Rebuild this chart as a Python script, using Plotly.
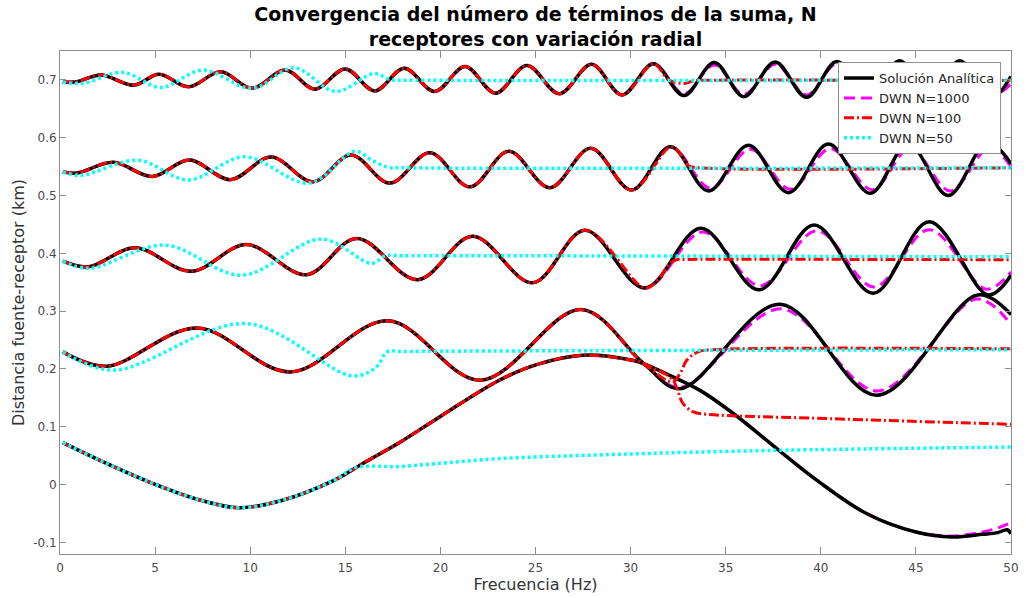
import plotly.graph_objects as go

# Frequency axis (Hz) and source-receiver distance axis (km)
x_ticks = [0, 5, 10, 15, 20, 25, 30, 35, 40, 45, 50]
y_ticks = [-0.1, 0, 0.1, 0.2, 0.3, 0.4, 0.5, 0.6, 0.7]
y_tick_labels = ["-0.1", "0", "0.1", "0.2", "0.3", "0.4", "0.5", "0.6", "0.7"]

# ---- Receptor 1 (~0.075 km) ----
f_ana_1 = [0.15, 2.1, 4.7, 7.4, 9.4, 11.7, 14.4, 16.1, 17.9, 20.0, 23.1, 25.1, 27.5,
           30.1, 30.7, 32.25, 33.65, 35.4, 37.7, 39.8, 42.4, 45.0, 46.9, 48.5, 49.3, 49.8, 50.0]
u_ana_1 = [0.0727, 0.042, 0.0045, -0.027, -0.040, -0.027, 0.0074, 0.040, 0.0738, 0.118, 0.1806,
           0.208, 0.2238, 0.215, 0.209, 0.186, 0.163, 0.123, 0.062, 0.0074, -0.050, -0.082,
           -0.0907, -0.086, -0.083, -0.078, -0.085]
f_n1000_1 = [46.9, 48.5, 49.3, 50.0]
u_n1000_1 = [-0.089, -0.082, -0.075, -0.066]
f_n100_1 = [32.2, 32.5, 32.76, 33.3, 34.0, 40.6, 50.0]
u_n100_1 = [0.182, 0.160, 0.140, 0.1257, 0.1217, 0.114, 0.1044]
f_n50_1 = [15.5, 16.5, 17.6, 20.0, 23.1, 30.0, 37.2, 50.0]
u_n50_1 = [0.029, 0.032, 0.031, 0.037, 0.045, 0.053, 0.059, 0.065]

# ---- Receptor 2 (~0.23 km) ----
f_ana_2 = [0.15, 2.45, 7.2, 12.1, 17.25, 22.1, 27.4, 30.7, 32.6, 37.85, 42.95, 48.25, 50.0]
u_ana_2 = [0.2296, 0.2048, 0.271, 0.195, 0.2833, 0.1806, 0.303, 0.209, 0.166, 0.312, 0.1546,
           0.328, 0.294]
f_n1000_2 = [32.6, 37.9, 43.0, 48.2, 50.0]
u_n1000_2 = [0.168, 0.304, 0.162, 0.321, 0.277]
f_n100_2 = [32.2, 32.6, 32.95, 33.55, 34.5, 50.0]
u_n100_2 = [0.178, 0.192, 0.215, 0.2296, 0.2335, 0.235]
f_n50_2 = [0.15, 2.8, 9.8, 15.4, 16.65, 17.2, 18.0, 50.0]
u_n50_2 = [0.2296, 0.198, 0.2786, 0.188, 0.204, 0.2296, 0.2302, 0.2335]

# ---- Receptor 3 (~0.385 km) ----
f_ana_3 = [0.15, 1.5, 3.95, 6.9, 9.8, 12.95, 15.6, 18.8, 21.7, 24.85, 27.6, 30.75, 33.7,
           36.75, 39.65, 42.75, 45.7, 48.8, 50.0]
u_ana_3 = [0.3865, 0.3767, 0.4096, 0.369, 0.4152, 0.363, 0.4258, 0.3545, 0.4295, 0.349, 0.440,
           0.340, 0.4435, 0.337, 0.449, 0.331, 0.4545, 0.328, 0.362]
f_n1000_3 = [33.8, 36.8, 39.8, 42.8, 45.7, 48.7, 50.0]
u_n1000_3 = [0.437, 0.344, 0.439, 0.342, 0.441, 0.338, 0.368]
f_n100_3 = [31.5, 32.0, 32.4, 33.0, 50.0]
u_n100_3 = [0.357, 0.380, 0.389, 0.3895, 0.389]
f_n50_3 = [0.15, 1.5, 5.5, 9.55, 13.75, 16.4, 17.1, 18.0, 50.0]
u_n50_3 = [0.3865, 0.374, 0.4142, 0.3623, 0.4246, 0.3826, 0.3958, 0.396, 0.394]

# ---- Receptor 4 (~0.54 km) ----
f_ana_4 = [0.15, 0.9, 2.8, 4.85, 6.8, 8.95, 11.1, 13.3, 15.3, 17.35, 19.45, 21.55, 23.6, 25.75,
           27.9, 30.05, 32.1, 34.1, 36.2, 38.3, 40.4, 42.6, 44.6, 46.7, 48.75, 50.0]
u_ana_4 = [0.541, 0.539, 0.5575, 0.533, 0.5614, 0.5275, 0.5665, 0.524, 0.570, 0.5215, 0.574,
           0.515, 0.5765, 0.5135, 0.5816, 0.5095, 0.5844, 0.508, 0.587, 0.505, 0.589, 0.504,
           0.590, 0.500, 0.592, 0.555]
f_n1000_4 = [34.2, 36.3, 38.4, 40.5, 42.7, 44.7, 46.8, 48.85, 50.0]
u_n1000_4 = [0.513, 0.580, 0.511, 0.581, 0.510, 0.582, 0.508, 0.583, 0.550]
f_n100_4 = [32.6, 33.05, 33.6, 50.0]
u_n100_4 = [0.573, 0.5515, 0.548, 0.548]
f_n50_4 = [0.15, 1.1, 4.1, 6.75, 9.7, 13.1, 15.5, 16.4, 17.2, 18.0, 50.0]
u_n50_4 = [0.541, 0.535, 0.561, 0.527, 0.567, 0.5215, 0.5765, 0.561, 0.549, 0.548, 0.548]

# ---- Receptor 5 (~0.70 km) ----
f_ana_5 = [0.15, 0.9, 2.15, 3.9, 5.2, 6.75, 8.45, 10.1, 11.85, 13.4, 15.0, 16.55, 18.1, 19.7,
           21.3, 22.9, 24.55, 26.25, 27.95, 29.55, 31.2, 32.8, 34.4, 35.95, 37.6, 39.25, 40.85,
           42.5, 44.15, 45.7, 47.3, 48.9, 50.0]
u_ana_5 = [0.696, 0.697, 0.7085, 0.691, 0.710, 0.688, 0.714, 0.6855, 0.717, 0.684, 0.719, 0.681,
           0.720, 0.680, 0.723, 0.677, 0.725, 0.676, 0.727, 0.674, 0.728, 0.673, 0.730, 0.671,
           0.731, 0.670, 0.732, 0.669, 0.733, 0.668, 0.733, 0.667, 0.706]
f_n1000_5 = [32.8, 34.4, 35.95, 37.6, 39.25, 40.85, 42.5, 44.15, 45.7, 47.3, 48.9, 50.0]
u_n1000_5 = [0.676, 0.726, 0.675, 0.727, 0.674, 0.728, 0.673, 0.728, 0.672, 0.728, 0.672, 0.693]
f_n100_5 = [32.0, 32.8, 33.4, 34.2, 50.0]
u_n100_5 = [0.700, 0.694, 0.699, 0.6995, 0.699]
f_n50_5 = [0.15, 1.2, 3.3, 5.3, 7.5, 10.1, 12.3, 14.5, 16.5, 17.4, 18.2, 50.0]
u_n50_5 = [0.696, 0.694, 0.713, 0.687, 0.717, 0.6855, 0.721, 0.680, 0.711, 0.700, 0.6995, 0.6995]


def joined(f_ref, u_ref, f_cut, f_tail, u_tail):
    """Analytic samples up to f_cut (where the DWN sum still agrees), then the DWN samples."""
    head = [(f, u) for f, u in zip(f_ref, u_ref) if f <= f_cut]
    return [p[0] for p in head] + f_tail, [p[1] for p in head] + u_tail


analytic = [(f_ana_1, u_ana_1), (f_ana_2, u_ana_2), (f_ana_3, u_ana_3),
            (f_ana_4, u_ana_4), (f_ana_5, u_ana_5)]
dwn1000 = [joined(f_ana_1, u_ana_1, 45.0, f_n1000_1, u_n1000_1),
           joined(f_ana_2, u_ana_2, 30.7, f_n1000_2, u_n1000_2),
           joined(f_ana_3, u_ana_3, 30.75, f_n1000_3, u_n1000_3),
           joined(f_ana_4, u_ana_4, 32.1, f_n1000_4, u_n1000_4),
           joined(f_ana_5, u_ana_5, 31.2, f_n1000_5, u_n1000_5)]
dwn100 = [joined(f_ana_1, u_ana_1, 30.7, f_n100_1, u_n100_1),
          joined(f_ana_2, u_ana_2, 30.7, f_n100_2, u_n100_2),
          joined(f_ana_3, u_ana_3, 30.75, f_n100_3, u_n100_3),
          joined(f_ana_4, u_ana_4, 32.1, f_n100_4, u_n100_4),
          joined(f_ana_5, u_ana_5, 31.2, f_n100_5, u_n100_5)]
dwn50 = [joined(f_ana_1, u_ana_1, 14.4, f_n50_1, u_n50_1),
         (f_n50_2, u_n50_2), (f_n50_3, u_n50_3), (f_n50_4, u_n50_4), (f_n50_5, u_n50_5)]

# Drawing order: N=1000 underneath, then analytic, N=100 and N=50 on top
series = [
    ("DWN N=1000", dwn1000, dict(color="#ff00ff", width=3, dash="11px,6px"), 2),
    ("Solución Analítica", analytic, dict(color="#000000", width=3.5, dash="solid"), 1),
    ("DWN N=100", dwn100, dict(color="#ff0000", width=3, dash="10px,3px,2px,3px"), 3),
    ("DWN N=50", dwn50, dict(color="#00ffff", width=3.5, dash="3px,3px"), 4),
]

fig = go.Figure()
for name, curves, line, rank in series:
    for k, (f, u) in enumerate(curves):
        fig.add_trace(go.Scatter(
            x=f, y=u, mode="lines", name=name, legendgroup=name, legendrank=rank,
            showlegend=(k == 0), line=dict(shape="spline", smoothing=1.0, **line),
            hoverinfo="skip"))

axis_common = dict(showline=True, linecolor="#8f8f8f", linewidth=1, mirror="ticks",
                   ticks="inside", tickcolor="#8f8f8f", showgrid=False, zeroline=False,
                   automargin=False, tickfont=dict(size=12, color="#4a4a4a"))

fig.update_layout(
    width=1026, height=598,
    margin=dict(l=60, r=15, t=51, b=44),
    paper_bgcolor="white", plot_bgcolor="white",
    font=dict(family="DejaVu Sans", color="#262626"),
    title=dict(text="<b>Convergencia del número de términos de la suma, N<br>"
                    "receptores con variación radial</b>",
               x=0.5, xref="paper", xanchor="center", y=0.965, yref="container",
               yanchor="top", font=dict(size=19, color="#000000")),
    legend=dict(x=0.9895, xanchor="right", y=0.978, yanchor="top", bgcolor="white",
                bordercolor="#8f8f8f", borderwidth=1, font=dict(size=13, color="#262626"),
                tracegroupgap=0, itemwidth=30),
    xaxis=dict(range=[0, 50], tickvals=x_ticks, ticklen=7, ticklabelstandoff=3,
               title=dict(text="Frecuencia (Hz)", font=dict(size=16, color="#333333"),
                          standoff=3), **axis_common),
    yaxis=dict(range=[-0.12, 0.75], tickvals=y_ticks, ticktext=y_tick_labels, ticklen=6,
               title=dict(text="Distancia fuente-receptor (km)",
                          font=dict(size=16, color="#333333"), standoff=4),
               **axis_common),
    showlegend=True,
)

fig.write_html("out.html", config={"displayModeBar": False})
